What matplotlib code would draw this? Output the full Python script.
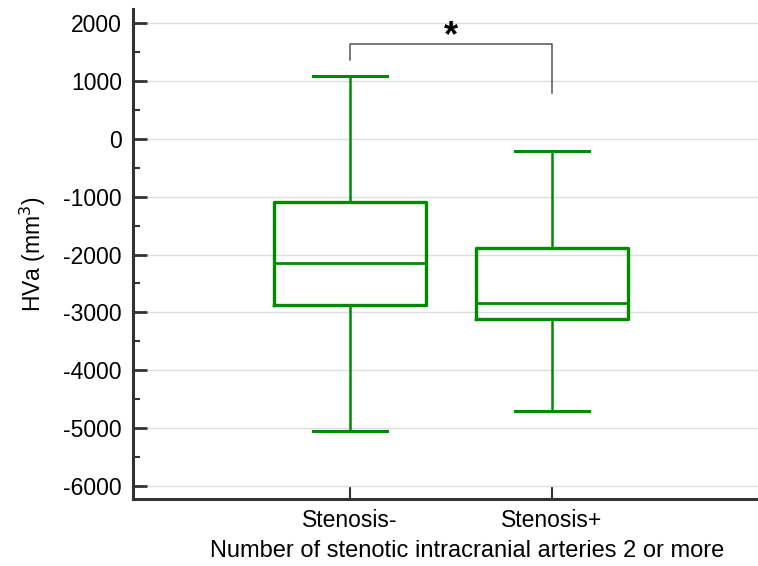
import matplotlib
matplotlib.use('Agg')
import matplotlib.pyplot as plt
from matplotlib.ticker import MultipleLocator

plt.rcParams['font.family'] = ['Liberation Sans', 'DejaVu Sans']
plt.rcParams['axes.unicode_minus'] = False

groups = ['Stenosis-', 'Stenosis+']
whisker_low = [-5060, -4710]
q1 = [-2880, -3120]
medians = [-2140, -2830]
q3 = [-1090, -1880]
whisker_high = [1090, -213]

# significance bracket (data units)
bracket_top = 1650
bracket_ends = [1365, 800]
sig_label = '*'

green = '#008a00'
dark = '#333333'

fig = plt.figure(figsize=(7.58, 5.66), dpi=100)
ax = fig.add_axes([0.1755, 0.1184, 0.8245, 0.8656])

stats = []
for i, g in enumerate(groups):
    stats.append({'label': g, 'whislo': whisker_low[i], 'q1': q1[i], 'med': medians[i],
                  'q3': q3[i], 'whishi': whisker_high[i], 'fliers': []})

positions = list(range(1, len(groups) + 1))
ax.bxp(stats, positions=positions, widths=0.75, capwidths=0.37, showfliers=False,
       boxprops=dict(color=green, linewidth=2.4),
       medianprops=dict(color=green, linewidth=2.0),
       whiskerprops=dict(color=green, linewidth=1.8),
       capprops=dict(color=green, linewidth=2.2))

# bracket
ax.plot([positions[0], positions[0], positions[1], positions[1]],
        [bracket_ends[0], bracket_top, bracket_top, bracket_ends[1]],
        color='#555555', linewidth=1.1, zorder=3)
ax.text((positions[0] + positions[1]) / 2, bracket_top + 120, sig_label,
        ha='center', va='center', fontsize=26, fontweight='bold', color='black')

ax.set_xlim(-0.075, 3.02)
ax.set_ylim(-6230, 2250)
ax.yaxis.set_major_locator(MultipleLocator(1000))
ax.yaxis.set_minor_locator(MultipleLocator(500))
ax.set_xticks(positions)
ax.set_xticklabels(groups)
ax.grid(axis='y', color='#dddddd', linewidth=1.0, zorder=0)
ax.set_axisbelow(True)

for s in ['top', 'right']:
    ax.spines[s].set_visible(False)
for s in ['left', 'bottom']:
    ax.spines[s].set_color(dark)
    ax.spines[s].set_linewidth(2.2)

ax.tick_params(axis='y', which='major', direction='in', length=10, width=2, color=dark,
               labelsize=16.5, pad=8)
ax.tick_params(axis='y', which='minor', direction='in', length=5, width=1.5, color=dark)
ax.tick_params(axis='x', which='major', direction='in', length=9, width=1.5, color=dark,
               labelsize=16.5, pad=7)

ax.set_ylabel('HVa (mm$^3$)', fontsize=16.5, labelpad=11)
ax.set_xlabel('Number of stenotic intracranial arteries 2 or more', fontsize=17)
ax.xaxis.set_label_coords(0.534, -0.083)

fig.savefig('out.png', dpi=100)
